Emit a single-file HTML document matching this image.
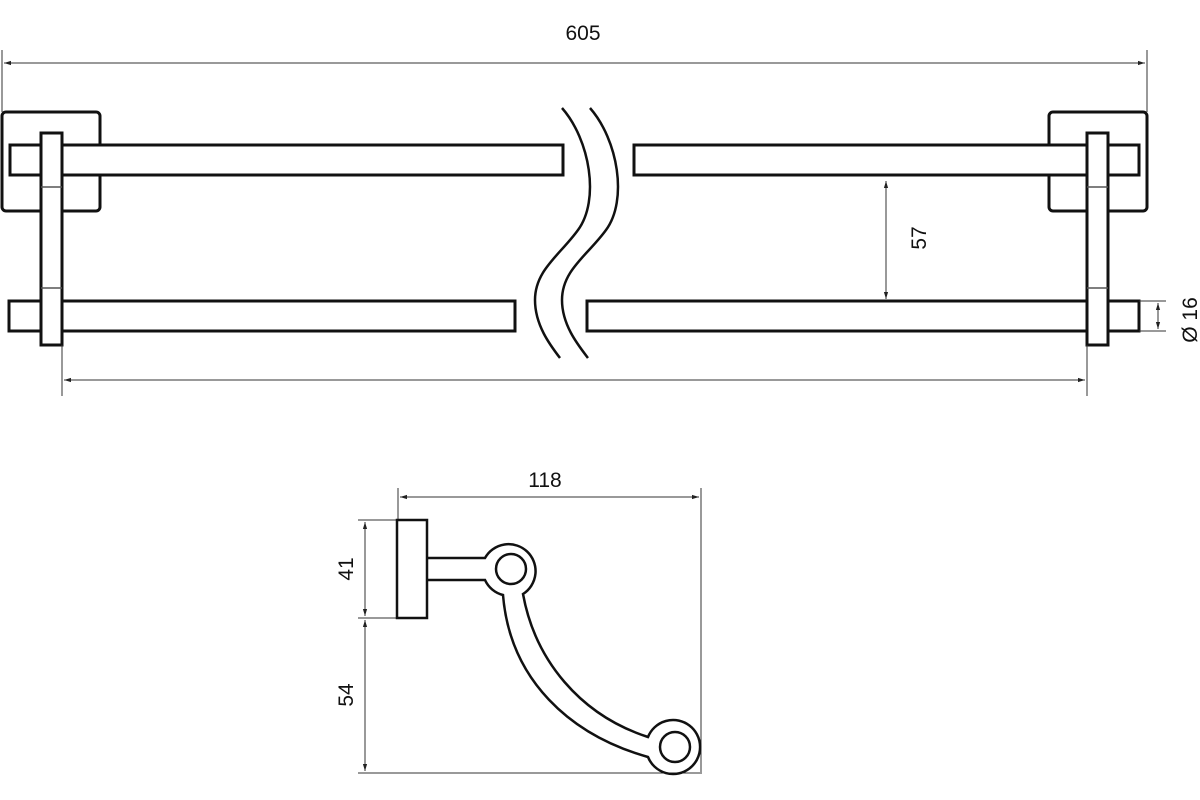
<!DOCTYPE html>
<html><head><style>body{margin:0;background:#fff}svg{display:block}</style></head><body>
<svg width="1200" height="800" viewBox="0 0 1200 800" xmlns="http://www.w3.org/2000/svg">
<defs><marker id="a" viewBox="0 0 10 10" refX="10" refY="5" markerWidth="7" markerHeight="7" orient="auto-start-reverse"><path d="M0,2L10,5L0,8z" fill="#222"/></marker></defs>
<g fill="#fff" stroke="#111" stroke-width="3">
<rect x="2" y="112" width="98" height="99" rx="4"/>
<rect x="1049" y="112" width="98" height="99" rx="4"/>
<rect x="10" y="145" width="553" height="30"/>
<rect x="9" y="301" width="506" height="30"/>
<rect x="634" y="145" width="505" height="30"/>
<rect x="587" y="301" width="552" height="30"/>
<rect x="41" y="133" width="21" height="212"/>
<rect x="1087" y="133" width="21" height="212"/>
</g>
<g stroke="#555" stroke-width="1.5"><line x1="41" y1="187" x2="62" y2="187"/><line x1="41" y1="288" x2="62" y2="288"/><line x1="1087" y1="187" x2="1108" y2="187"/><line x1="1087" y1="288" x2="1108" y2="288"/></g>
<g fill="none" stroke="#111" stroke-width="2.5">
<path d="M562,108 C590,140 600,200 578,230 C560,255 535,270 535,300 C535,325 550,345 560,358"/>
<path d="M590,108 C618,140 628,200 606,230 C588,255 562,270 562,300 C562,325 578,345 588,358"/>
</g>
<g stroke="#333" stroke-width="1" fill="none">
<line x1="2" y1="50" x2="2" y2="112"/><line x1="1147" y1="50" x2="1147" y2="112"/>
<line x1="4" y1="63" x2="1145" y2="63" marker-start="url(#a)" marker-end="url(#a)"/>
<line x1="62" y1="345" x2="62" y2="396"/><line x1="1087" y1="345" x2="1087" y2="396"/>
<line x1="64" y1="380" x2="1085" y2="380" marker-start="url(#a)" marker-end="url(#a)"/>
<line x1="886" y1="181" x2="886" y2="299" marker-start="url(#a)" marker-end="url(#a)"/>
<line x1="1139" y1="301" x2="1166" y2="301"/><line x1="1139" y1="331" x2="1166" y2="331"/>
<line x1="1158" y1="303" x2="1158" y2="329" marker-start="url(#a)" marker-end="url(#a)"/>
<line x1="398" y1="488" x2="398" y2="520"/><line x1="701" y1="488" x2="701" y2="774"/>
<line x1="400" y1="497" x2="699" y2="497" marker-start="url(#a)" marker-end="url(#a)"/>
<line x1="358" y1="520" x2="397" y2="520"/><line x1="358" y1="618" x2="397" y2="618"/><line x1="358" y1="773" x2="700" y2="773"/>
<line x1="365" y1="522" x2="365" y2="616" marker-start="url(#a)" marker-end="url(#a)"/>
<line x1="365" y1="620" x2="365" y2="771" marker-start="url(#a)" marker-end="url(#a)"/>
</g>
<g fill="none" stroke="#111" stroke-width="2.5">
<rect x="397" y="520" width="30" height="98" fill="#fff"/>
<path d="M427,558 L485,558 A27,27 0 1 1 523,594 C535,660 580,715 648,737 A27,27 0 1 1 648,757 C570,735 510,680 503,595 A27,27 0 0 1 485,580 L427,580"/>
<circle cx="511" cy="569" r="15"/>
<circle cx="675" cy="747" r="15"/>
</g>
<g font-family="Liberation Sans, sans-serif" font-size="21" fill="#111" text-anchor="middle">
<text x="583" y="40">605</text>
<text x="545" y="487">118</text>
<text transform="translate(926,238) rotate(-90)">57</text>
<text transform="translate(1197,320) rotate(-90)">Ø 16</text>
<text transform="translate(353,569) rotate(-90)">41</text>
<text transform="translate(353,695) rotate(-90)">54</text>
</g>
</svg>
</body></html>
